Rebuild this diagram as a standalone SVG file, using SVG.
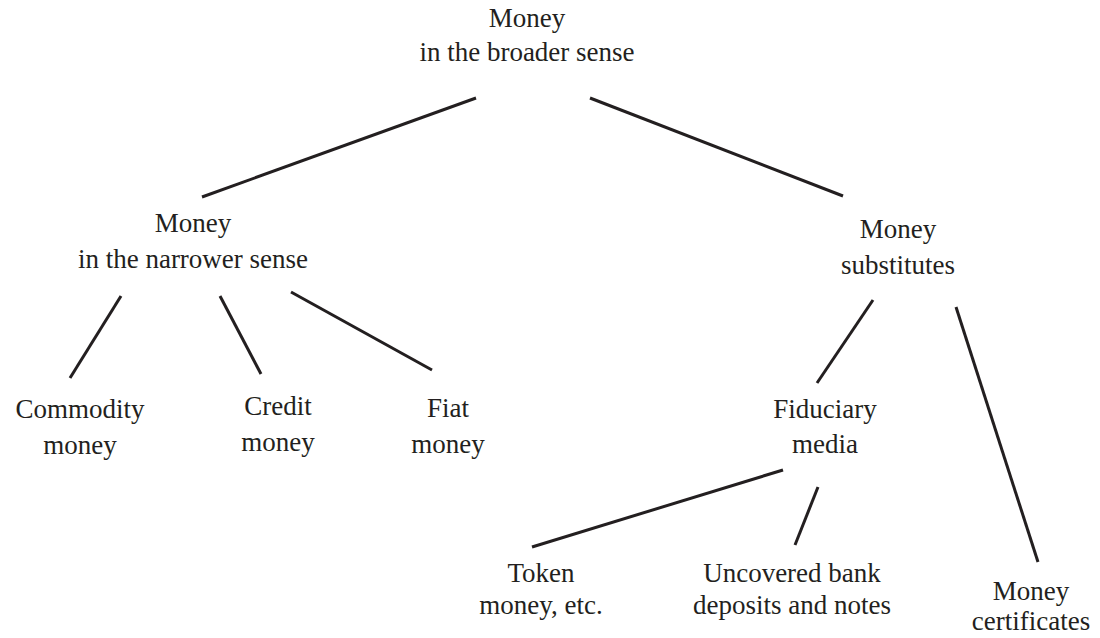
<svg xmlns="http://www.w3.org/2000/svg" width="1100" height="638" viewBox="0 0 1100 638">
<style>
text{font-family:"Liberation Serif","DejaVu Serif",serif;font-size:27px;fill:#231f20;text-anchor:middle}
line{stroke:#231f20;stroke-width:3}
</style>
<rect width="1100" height="638" fill="#fff"/>
<g id="connectors">
<line x1="476" y1="98" x2="202" y2="197"/>
<line x1="590" y1="98" x2="843" y2="196"/>
<line x1="121" y1="296" x2="70" y2="378"/>
<line x1="220" y1="296" x2="261" y2="374"/>
<line x1="291" y1="292" x2="432" y2="370"/>
<line x1="873" y1="300" x2="817" y2="383"/>
<line x1="956" y1="307" x2="1038" y2="562"/>
<line x1="783" y1="470" x2="532" y2="547"/>
<line x1="818" y1="487" x2="795" y2="545"/>
</g>
<g id="broader"><text x="527" y="27">Money</text><text x="527" y="61">in the broader sense</text></g>
<g id="narrower"><text x="193" y="232">Money</text><text x="193" y="268">in the narrower sense</text></g>
<g id="substitutes"><text x="898" y="238">Money</text><text x="898" y="274">substitutes</text></g>
<g id="commodity"><text x="80" y="418">Commodity</text><text x="80" y="454">money</text></g>
<g id="credit"><text x="278" y="415">Credit</text><text x="278" y="451">money</text></g>
<g id="fiat"><text x="448" y="417">Fiat</text><text x="448" y="453">money</text></g>
<g id="fiduciary"><text x="825" y="418">Fiduciary</text><text x="825" y="453">media</text></g>
<g id="token"><text x="541" y="582">Token</text><text x="541" y="614">money, etc.</text></g>
<g id="uncovered"><text x="792" y="582">Uncovered bank</text><text x="792" y="614">deposits and notes</text></g>
<g id="certificates"><text x="1031" y="600">Money</text><text x="1031" y="630">certificates</text></g>
</svg>
